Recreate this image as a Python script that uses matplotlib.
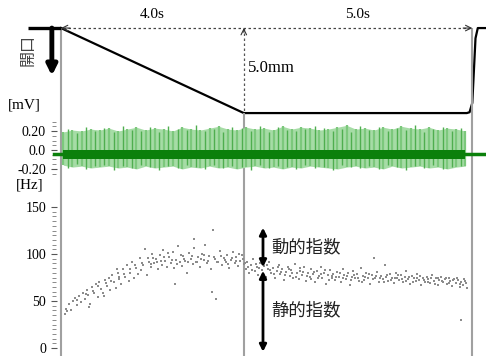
"""
Mouth opening, EMG and Hz index chart (three stacked panels on a shared time axis).
"""

import matplotlib
matplotlib.use("Agg")
import matplotlib.pyplot as plt
from matplotlib.ticker import FixedLocator

plt.rcParams["font.family"] = ["Liberation Serif", "Noto Sans CJK JP"]

# --- data -------------------------------------------------------------------
# mouth opening [mm] over time [s]
mouth_t = [0.0, 4.0, 8.88, 8.94, 9.00, 9.07, 9.12, 9.30]
mouth_mm = [0.0, 5.0, 5.0, 4.95, 4.4, 0.6, 0.0, 0.0]

# EMG envelope [mV] (two interleaved sets of spikes)
emg_t = [0.05, 0.25, 0.45, 0.65, 0.85, 1.05, 1.25, 1.45, 1.65, 1.85,
         2.05, 2.25, 2.45, 2.65, 2.85, 3.05, 3.25, 3.45, 3.65, 3.85,
         4.05, 4.25, 4.45, 4.65, 4.85, 5.05, 5.25, 5.45, 5.65, 5.85,
         6.05, 6.25, 6.45, 6.65, 6.85, 7.05, 7.25, 7.45, 7.65, 7.85,
         8.05, 8.25, 8.45, 8.65, 8.85]
emg_top = [0.19, 0.21, 0.20, 0.22, 0.21, 0.23, 0.20, 0.22, 0.24, 0.21,
           0.23, 0.22, 0.20, 0.24, 0.22, 0.21, 0.23, 0.25, 0.22, 0.21,
           0.24, 0.22, 0.23, 0.21, 0.25, 0.22, 0.24, 0.23, 0.21, 0.22,
           0.24, 0.26, 0.22, 0.23, 0.21, 0.24, 0.22, 0.25, 0.23, 0.22,
           0.24, 0.21, 0.23, 0.22, 0.20]
emg_bot = [-0.16, -0.18, -0.17, -0.19, -0.18, -0.17, -0.19, -0.18, -0.20, -0.17,
           -0.19, -0.18, -0.17, -0.20, -0.18, -0.19, -0.17, -0.19, -0.18, -0.20,
           -0.18, -0.17, -0.19, -0.18, -0.20, -0.18, -0.19, -0.17, -0.18, -0.19,
           -0.20, -0.18, -0.17, -0.19, -0.18, -0.20, -0.17, -0.19, -0.18, -0.17,
           -0.19, -0.18, -0.20, -0.18, -0.17]
emg_t2 = [0.15, 0.35, 0.55, 0.75, 0.95, 1.15, 1.35, 1.55, 1.75, 1.95,
          2.15, 2.35, 2.55, 2.75, 2.95, 3.15, 3.35, 3.55, 3.75, 3.95,
          4.15, 4.35, 4.55, 4.75, 4.95, 5.15, 5.35, 5.55, 5.75, 5.95,
          6.15, 6.35, 6.55, 6.75, 6.95, 7.15, 7.35, 7.55, 7.75, 7.95,
          8.15, 8.35, 8.55, 8.75]
emg_top2 = [0.22, 0.18, 0.24, 0.20, 0.23, 0.19, 0.25, 0.21, 0.20, 0.24,
            0.19, 0.25, 0.22, 0.21, 0.26, 0.20, 0.22, 0.19, 0.24, 0.23,
            0.20, 0.25, 0.19, 0.24, 0.21, 0.20, 0.22, 0.25, 0.23, 0.20,
            0.22, 0.19, 0.25, 0.21, 0.24, 0.20, 0.23, 0.21, 0.26, 0.19,
            0.22, 0.24, 0.20, 0.23]
emg_bot2 = [-0.19, -0.15, -0.20, -0.17, -0.16, -0.21, -0.17, -0.19, -0.16, -0.18,
            -0.21, -0.17, -0.19, -0.16, -0.18, -0.20, -0.16, -0.19, -0.17, -0.18,
            -0.21, -0.16, -0.19, -0.17, -0.18, -0.20, -0.16, -0.19, -0.18, -0.21,
            -0.16, -0.18, -0.19, -0.17, -0.20, -0.16, -0.18, -0.21, -0.17, -0.19,
            -0.16, -0.20, -0.18, -0.17]
emg_core = (-0.095, 0.0)
emg_base = -0.045

# index values [Hz]
hz_t = [0.08, 0.12, 0.18, 0.22, 0.26, 0.30, 0.34, 0.40, 0.44, 0.48,
        0.52, 0.56, 0.60, 0.62, 0.64, 0.68, 0.72, 0.76, 0.80, 0.84,
        0.88, 0.92, 0.95, 0.96, 1.00, 1.04, 1.08, 1.12, 1.16, 1.20,
        1.22, 1.24, 1.28, 1.32, 1.36, 1.40, 1.44, 1.48, 1.52, 1.56,
        1.60, 1.64, 1.68, 1.72, 1.76, 1.80, 1.84, 1.88, 1.92, 1.96,
        2.00, 2.04, 2.08, 2.12, 2.16, 2.20, 2.24, 2.28, 2.32, 2.36,
        2.40, 2.44, 2.48, 2.50, 2.52, 2.56, 2.60, 2.64, 2.68, 2.72,
        2.76, 2.80, 2.84, 2.88, 2.90, 2.92, 2.96, 3.00, 3.04, 3.08,
        3.12, 3.16, 3.20, 3.24, 3.28, 3.30, 3.32, 3.36, 3.40, 3.44,
        3.48, 3.52, 3.56, 3.60, 3.64, 3.68, 3.72, 3.76, 3.80, 3.84,
        3.88, 3.92, 3.96, 4.00, 4.04, 4.08, 4.12, 4.16, 4.20, 4.24,
        4.28, 4.32, 4.36, 4.40, 4.44, 4.48, 4.52, 4.56, 4.60, 4.64,
        4.68, 4.72, 4.76, 4.80, 4.84, 4.88, 4.92, 4.96, 5.00, 5.04,
        5.08, 5.12, 5.16, 5.20, 5.24, 5.28, 5.32, 5.36, 5.40, 5.44,
        5.48, 5.52, 5.56, 5.60, 5.64, 5.68, 5.72, 5.76, 5.80, 5.84,
        5.88, 5.92, 5.96, 6.00, 6.04, 6.08, 6.12, 6.16, 6.20, 6.24,
        6.28, 6.32, 6.36, 6.40, 6.44, 6.48, 6.52, 6.56, 6.60, 6.64,
        6.68, 6.72, 6.76, 6.80, 6.84, 6.88, 6.92, 6.96, 7.00, 7.04,
        7.08, 7.12, 7.16, 7.20, 7.24, 7.28, 7.32, 7.36, 7.40, 7.44,
        7.48, 7.52, 7.56, 7.60, 7.64, 7.68, 7.72, 7.76, 7.80, 7.84,
        7.88, 7.92, 7.96, 8.00, 8.04, 8.08, 8.12, 8.16, 8.20, 8.24,
        8.28, 8.32, 8.36, 8.40, 8.44, 8.48, 8.52, 8.56, 8.60, 8.64,
        8.68, 8.72, 8.75, 8.76, 8.80, 8.84, 8.88]
hz_val = [36, 42, 47, 40, 50, 53, 46, 55, 49, 58,
          52, 62, 56, 44, 47, 65, 59, 68, 54, 70,
          63, 58, 55, 72, 66, 75, 62, 78, 70, 64,
          84, 80, 73, 68, 84, 76, 88, 71, 80, 92,
          74, 85, 79, 96, 83, 88, 105, 78, 92, 86,
          100, 90, 95, 84, 99, 88, 104, 93, 86, 97,
          90, 102, 85, 68, 94, 108, 91, 87, 98, 93,
          80, 101, 95, 89, 116, 106, 92, 97, 86, 100,
          94, 110, 90, 98, 84, 60, 126, 95, 52, 91,
          103, 88, 96, 92, 99, 85, 94, 102, 90, 97,
          87, 93, 99, 89, 84, 92, 80, 88, 95, 82,
          86, 78, 90, 83, 87, 76, 84, 92, 80, 85,
          74, 82, 88, 79, 84, 72, 81, 86, 77, 83,
          75, 89, 80, 73, 82, 78, 86, 71, 80, 76,
          84, 79, 70, 82, 77, 86, 74, 80, 68, 78,
          83, 75, 79, 72, 81, 76, 70, 84, 78, 73,
          80, 67, 76, 82, 74, 79, 71, 85, 77, 72,
          80, 75, 68, 78, 96, 74, 81, 70, 77, 73,
          88, 76, 71, 79, 74, 69, 80, 75, 72, 78,
          70, 76, 82, 73, 68, 77, 74, 71, 79, 72,
          67, 75, 70, 76, 73, 69, 78, 71, 74, 67,
          72, 76, 70, 73, 68, 75, 71, 66, 73, 69,
          72, 65, 30, 70, 67, 71, 64]
# second batch of dots (the cloud is dense, read in two passes)
hz_t_b = [0.14, 0.36, 0.54, 0.70, 0.82, 0.98, 1.10, 1.26, 1.38, 1.50,
          1.62, 1.78, 1.90, 1.98, 2.02, 2.10, 2.18, 2.26, 2.34, 2.42,
          2.54, 2.62, 2.70, 2.78, 2.86, 2.98, 3.06, 3.14, 3.22, 3.34,
          3.42, 3.50, 3.58, 3.66, 3.74, 3.82, 3.90, 3.98, 4.02, 4.10,
          4.18, 4.26, 4.34, 4.42, 4.50, 4.58, 4.66, 4.74, 4.82, 4.90,
          4.98, 5.06, 5.14, 5.22, 5.30, 5.38, 5.46, 5.54, 5.62, 5.70,
          5.78, 5.86, 5.94, 6.02, 6.10, 6.18, 6.26, 6.34, 6.42, 6.50,
          6.58, 6.66, 6.74, 6.82, 6.90, 6.98, 7.06, 7.14, 7.22, 7.30,
          7.38, 7.46, 7.54, 7.62, 7.70, 7.78, 7.86, 7.94, 8.02, 8.10,
          8.18, 8.26, 8.34, 8.42, 8.50, 8.58, 8.66, 8.74, 8.82, 8.86]
hz_val_b = [39, 51, 57, 61, 66, 69, 71, 76, 79, 84,
            88, 90, 96, 89, 96, 91, 93, 97, 101, 94,
            89, 99, 95, 92, 98, 91, 95, 99, 93, 97,
            92, 98, 94, 89, 96, 93, 100, 95, 90, 86,
            83, 89, 85, 80, 88, 83, 79, 86, 81, 78,
            84, 80, 76, 85, 81, 77, 73, 81, 75, 79,
            83, 72, 77, 76, 80, 74, 77, 72, 78, 75,
            70, 76, 79, 73, 77, 74, 70, 78, 72, 75,
            78, 73, 71, 76, 70, 74, 77, 72, 70, 74,
            68, 75, 71, 74, 69, 72, 75, 68, 73, 69]

# --- layout -----------------------------------------------------------------
W, H = 486, 356
PX_PER_S = 45.7
X0 = 61  # pixel column of t = 0
XLIM = (-X0 / PX_PER_S, (W - X0) / PX_PER_S)

fig = plt.figure(figsize=(W / 100, H / 100), dpi=100)
ax_top = fig.add_axes([0, 1 - 118 / H, 1, 118 / H])
ax_emg = fig.add_axes([0, 1 - 182 / H, 1, 64 / H])
ax_hz = fig.add_axes([0, 0, 1, 174 / H])

line_grey = "#a0a0a0"
for ax in (ax_top, ax_emg, ax_hz):
    ax.set_xlim(XLIM)
    ax.set_facecolor("none")
    ax.set_xticks([])
    for s in ("top", "right", "bottom"):
        ax.spines[s].set_visible(False)

# --- top: mouth opening -----------------------------------------------------
ax_top.set_ylim(5.29, -1.65)
ax_top.spines["left"].set_visible(False)
ax_top.set_yticks([])
ax_top.plot(mouth_t, mouth_mm, color="black", lw=1.6, solid_joinstyle="round")

# time markers
ax_top.vlines(0, 0, 5.29, color=line_grey, lw=1.5)
ax_top.vlines(4.0, 5.0, 5.29, color=line_grey, lw=1.5)
ax_top.vlines(9.0, 0, 5.29, color=line_grey, lw=1.5)
ax_top.vlines(4.0, 0, 5.0, color="#555555", lw=0.9, linestyles=(0, (2, 2)))
ax_top.hlines(0, 0.05, 8.95, color="#444444", lw=0.9, linestyles=(0, (2, 2)))
for xy, xytext in [((9.0, 0), (8.8, 0)), ((4.0, 0), (4.0, 0.25)), ((0.0, 0), (0.2, 0))]:
    ax_top.annotate("", xy=xy, xytext=xytext,
                    arrowprops=dict(arrowstyle="->", lw=0.8, color="#333333",
                                    shrinkA=0, shrinkB=0))

ax_top.text(2.0, -0.78, "4.0s", ha="center", va="center", fontsize=11)
ax_top.text(6.48, -0.78, "5.0s", ha="center", va="center", fontsize=11)
ax_top.text(4.08, 2.35, "5.0mm", ha="left", va="center", fontsize=12)

# opening indicator on the left
ax_top.plot([-0.73, 0.0], [0, 0], color="black", lw=2.4, solid_capstyle="butt")
ax_top.annotate("", xy=(-0.2, 2.8), xytext=(-0.2, 0),
                arrowprops=dict(arrowstyle="-|>,head_width=0.3,head_length=0.6",
                                lw=3.5, color="black", shrinkA=0, shrinkB=0))
ax_top.text(-0.72, 1.3, "開口", rotation=90, ha="center", va="center",
            fontsize=11.5, family=["Noto Sans CJK JP"], color="#444444")

# --- middle: EMG ------------------------------------------------------------
ax_emg.set_ylim(-0.337, 0.337)
ax_emg.axvline(0, color=line_grey, lw=1.5)
ax_emg.axvline(4.0, color=line_grey, lw=1.5)
ax_emg.axvline(9.0, color=line_grey, lw=1.5)

ax_emg.fill_between(emg_t, emg_bot, emg_top, color="#a6dca6", lw=0, zorder=2)
ax_emg.vlines(emg_t, emg_bot, emg_top, color="#7cc87c", lw=1.6, zorder=2)
ax_emg.vlines(emg_t2, emg_bot2, emg_top2, color="#4fae4f", lw=1.0, zorder=2)
ax_emg.fill_between([emg_t[0], emg_t[-1]], emg_core[0], emg_core[1],
                    color="#0b800b", lw=0, zorder=3)
ax_emg.plot([-0.15, emg_t[0]], [emg_base, emg_base], color="#0b800b", lw=2.5)
ax_emg.plot([emg_t[-1], XLIM[1]], [emg_base, emg_base], color="#0b800b", lw=2.5)

ax_emg.set_yticks([0.2, 0.0, -0.2])
ax_emg.set_yticklabels(["0.20", "0.0", "-0.20"], fontsize=11)
ax_emg.yaxis.set_minor_locator(FixedLocator([-0.25, -0.15, -0.1, -0.05, 0.05, 0.1,
                                             0.15, 0.25, 0.3]))
ax_emg.text(-0.8, 0.47, "[mV]", ha="center", va="center", fontsize=11,
            clip_on=False)

# --- bottom: Hz index -------------------------------------------------------
ax_hz.set_ylim(-8.5, 176.6)
ax_hz.axvline(0, color=line_grey, lw=1.5)
ax_hz.axvline(4.0, color=line_grey, lw=1.5)
ax_hz.axvline(9.0, color=line_grey, lw=1.5)
ax_hz.scatter(hz_t, hz_val, s=1.6, color="#8c8c8c", marker="s", lw=0, zorder=3)
ax_hz.scatter(hz_t_b, hz_val_b, s=1.6, color="#8c8c8c", marker="s", lw=0, zorder=3)

ax_hz.set_yticks([0, 50, 100, 150])
ax_hz.set_yticklabels(["0", "50", "100", "150"], fontsize=12)
ax_hz.yaxis.set_minor_locator(FixedLocator([v for v in range(5, 150, 5) if v % 50]))
ax_hz.text(-0.68, 173, "[Hz]", ha="center", va="center", fontsize=11,
           clip_on=False)

# dynamic / static index brackets
arrow_kw = dict(arrowstyle="<|-|>,head_width=0.2,head_length=0.4", lw=2,
                color="black", shrinkA=0, shrinkB=0)
ax_hz.annotate("", xy=(4.42, 128), xytext=(4.42, 86), arrowprops=arrow_kw)
ax_hz.annotate("", xy=(4.42, 82), xytext=(4.42, -4), arrowprops=arrow_kw)
ax_hz.text(4.6, 107, "動的指数", ha="left", va="center", fontsize=12.5,
           family=["Noto Sans CJK JP"], color="#222222")
ax_hz.text(4.6, 40, "静的指数", ha="left", va="center", fontsize=12.5,
           family=["Noto Sans CJK JP"], color="#222222")

# y ticks sit on an invisible axis line just left of t = 0
for ax in (ax_emg, ax_hz):
    ax.spines["left"].set_position(("data", -0.16))
    ax.spines["left"].set_color("none")
    ax.tick_params(axis="y", which="major", direction="inout", length=5,
                   width=0.8, color="#555555", pad=3)
    ax.tick_params(axis="y", which="minor", direction="inout", length=3,
                   width=0.6, color="#777777")

fig.savefig("out.png", dpi=100)
